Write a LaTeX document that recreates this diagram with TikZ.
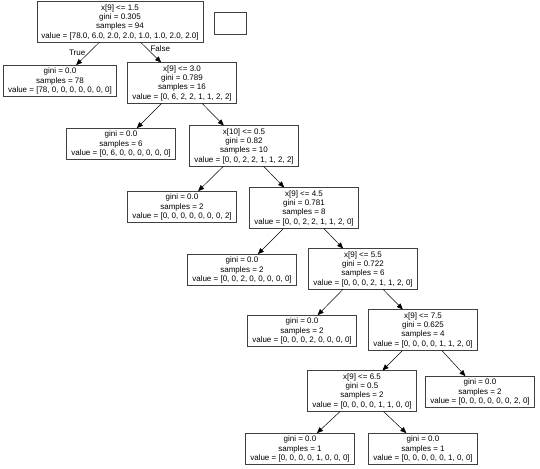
\documentclass[tikz,border=0pt]{standalone}
\usepackage{fontspec}
\setmainfont{Liberation Sans}
\usetikzlibrary{arrows.meta}

\begin{document}
\begin{tikzpicture}[x=1pt,y=-1pt,
  box/.style={draw=black!75, line width=0.7pt, rectangle, align=center, font=\fontsize{8}{9.3}\selectfont, inner xsep=4.5pt, inner ysep=2.5pt},
  edge/.style={line width=0.5pt, -{Triangle[length=6pt,width=5pt]}},
  lbl/.style={font=\fontsize{8}{9.3}\selectfont}]
\useasboundingbox (0,0) rectangle (540,468);
\node[box] (n0) at (120,22) {x[9] <= 1.5\\gini = 0.305\\samples = 94\\value = [78.0, 6.0, 2.0, 2.0, 1.0, 1.0, 2.0, 2.0]};
\node[box, minimum width=32pt, minimum height=22pt] (blank) at (230,23) {};
\node[box] (n1) at (60,81) {gini = 0.0\\samples = 78\\value = [78, 0, 0, 0, 0, 0, 0, 0]};
\node[box] (n2) at (182,83) {x[9] <= 3.0\\gini = 0.789\\samples = 16\\value = [0, 6, 2, 2, 1, 1, 2, 2]};
\node[box] (n3) at (121,144) {gini = 0.0\\samples = 6\\value = [0, 6, 0, 0, 0, 0, 0, 0]};
\node[box] (n4) at (244,146) {x[10] <= 0.5\\gini = 0.82\\samples = 10\\value = [0, 0, 2, 2, 1, 1, 2, 2]};
\node[box] (n5) at (182,207) {gini = 0.0\\samples = 2\\value = [0, 0, 0, 0, 0, 0, 0, 2]};
\node[box] (n6) at (304,208) {x[9] <= 4.5\\gini = 0.781\\samples = 8\\value = [0, 0, 2, 2, 1, 1, 2, 0]};
\node[box] (n7) at (242,270) {gini = 0.0\\samples = 2\\value = [0, 0, 2, 0, 0, 0, 0, 0]};
\node[box] (n8) at (363,269) {x[9] <= 5.5\\gini = 0.722\\samples = 6\\value = [0, 0, 0, 2, 1, 1, 2, 0]};
\node[box] (n9) at (302,331) {gini = 0.0\\samples = 2\\value = [0, 0, 0, 2, 0, 0, 0, 0]};
\node[box] (n10) at (423,330) {x[9] <= 7.5\\gini = 0.625\\samples = 4\\value = [0, 0, 0, 0, 1, 1, 2, 0]};
\node[box] (n11) at (362,391) {x[9] <= 6.5\\gini = 0.5\\samples = 2\\value = [0, 0, 0, 0, 1, 1, 0, 0]};
\node[box] (n12) at (480,392) {gini = 0.0\\samples = 2\\value = [0, 0, 0, 0, 0, 0, 2, 0]};
\node[box] (n13) at (300,449) {gini = 0.0\\samples = 1\\value = [0, 0, 0, 0, 1, 0, 0, 0]};
\node[box] (n14) at (423,449) {gini = 0.0\\samples = 1\\value = [0, 0, 0, 0, 0, 1, 0, 0]};
\draw[edge] (n0) -- node[lbl, pos=0.45, left] {True} (n1);
\draw[edge] (n0) -- node[lbl, pos=0.3, right] {False} (n2);
\draw[edge] (n2) -- (n3);
\draw[edge] (n2) -- (n4);
\draw[edge] (n4) -- (n5);
\draw[edge] (n4) -- (n6);
\draw[edge] (n6) -- (n7);
\draw[edge] (n6) -- (n8);
\draw[edge] (n8) -- (n9);
\draw[edge] (n8) -- (n10);
\draw[edge] (n10) -- (n11);
\draw[edge] (n10) -- (n12);
\draw[edge] (n11) -- (n13);
\draw[edge] (n11) -- (n14);
\end{tikzpicture}
\end{document}
